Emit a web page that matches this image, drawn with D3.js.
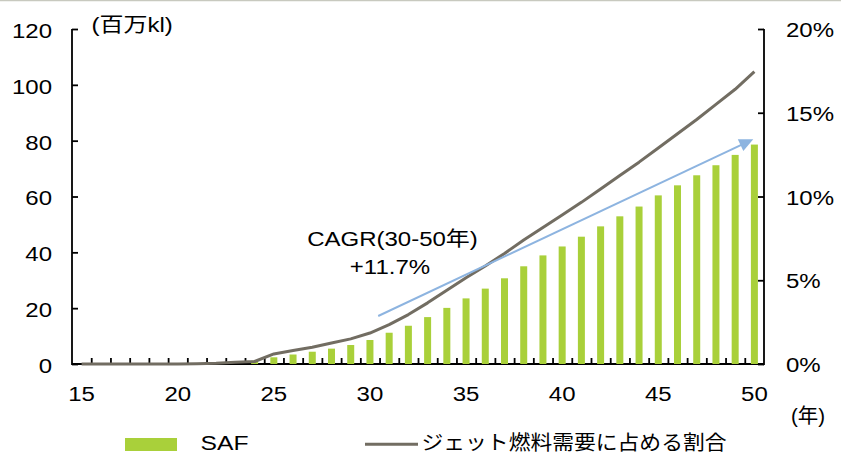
<!DOCTYPE html>
<html>
<head>
<meta charset="utf-8">
<script src="https://cdn.jsdelivr.net/npm/d3@7"></script>
<style>
  body { margin: 0; background: #fff; }
  svg { display: block; }
  text { font-family: "Liberation Sans", Arial, "Noto Sans CJK JP", sans-serif; font-size: 20px; fill: #000; }
</style>
</head>
<body>
<script>
// Fiscal years (20xx)
const years = [15, 16, 17, 18, 19, 20, 21, 22, 23, 24, 25, 26, 27, 28, 29, 30, 31, 32,
               33, 34, 35, 36, 37, 38, 39, 40, 41, 42, 43, 44, 45, 46, 47, 48, 49, 50];
// SAF volume, million kl (left axis)
const safVolume = [0, 0, 0, 0, 0, 0, 0, 0, 0, 1.2, 2.4, 3.4, 4.4, 5.5, 6.8, 8.6, 11.2, 13.7,
                   16.8, 20.1, 23.5, 27.0, 30.7, 35.0, 38.9, 42.1, 45.6, 49.3, 52.9, 56.4, 60.4, 64.0, 67.6, 71.2, 74.9, 78.6];
// SAF share of jet fuel demand, % (right axis)
const jetShare = [0, 0, 0, 0, 0, 0, 0.02, 0.04, 0.1, 0.15, 0.6, 0.8, 1.0, 1.25, 1.5, 1.85, 2.35, 2.95,
                  3.65, 4.4, 5.15, 5.85, 6.6, 7.4, 8.15, 8.9, 9.65, 10.45, 11.25, 12.05, 12.9, 13.75, 14.6, 15.5, 16.4, 17.45];
const xTickLabels = [15, 20, 25, 30, 35, 40, 45, 50];
const leftTicks = [0, 20, 40, 60, 80, 100, 120];
const rightTicks = [0, 5, 10, 15, 20];
// CAGR arrow endpoints: [year, million kl]
const cagrFrom = [30.43, 17.2];
const cagrTo = [49.94, 80.5];

const W = 841, H = 455;
const plot = { left: 72, right: 764, top: 29, bottom: 364 };
const BAR = "#a9d03a", LINE = "#726d62", ARROW = "#8db4e0";
const SX = 1.2; // horizontal text stretch

const svg = d3.select("body").append("svg").attr("width", W).attr("height", H);

function stretch(sel, k) {
  sel.each(function () {
    const n = this.getComputedTextLength();
    this.setAttribute("textLength", n * k);
    this.setAttribute("lengthAdjust", "spacingAndGlyphs");
  });
}

const x = d3.scaleBand().domain(years).range([plot.left, plot.right]);
const xLin = d3.scaleLinear()
  .domain([years[0] - 0.5, years[years.length - 1] + 0.5])
  .range([plot.left, plot.right]);
const yL = d3.scaleLinear().domain([0, 120]).range([plot.bottom, plot.top]);
const yR = d3.scaleLinear().domain([0, 20]).range([plot.bottom, plot.top]);

// thin rule along the top edge
svg.append("line").attr("x1", 0).attr("x2", W).attr("y1", 0.6).attr("y2", 0.6)
  .attr("stroke", "#c8c9bf").attr("stroke-width", 1.5);

// left axis
const gL = svg.append("g").attr("transform", `translate(${plot.left},0)`)
  .call(d3.axisLeft(yL).tickValues(leftTicks).tickSize(-6).tickPadding(20).tickSizeOuter(0));
gL.select(".domain").remove();
gL.selectAll(".tick line").attr("stroke", "#000").attr("stroke-width", 1.8);
gL.selectAll("text").attr("dy", "0.42em").style("font-size", "20px");
stretch(gL.selectAll("text"), SX);

// right axis
const gR = svg.append("g").attr("transform", `translate(${plot.right},0)`)
  .call(d3.axisRight(yR).tickValues(rightTicks).tickSize(-6).tickPadding(22)
    .tickFormat(d => d + "%").tickSizeOuter(0));
gR.select(".domain").remove();
gR.selectAll(".tick line").attr("stroke", "#000").attr("stroke-width", 1.8);
gR.selectAll("text").attr("dy", "0.38em").style("font-size", "20px");
stretch(gR.selectAll("text"), SX);

// bottom axis: tick marks on category boundaries, labels every 5 years
const gBt = svg.append("g").attr("transform", `translate(0,${plot.bottom})`)
  .call(d3.axisBottom(xLin).tickValues(years.slice(0, -1).map(d => d + 0.5))
    .tickSize(-6).tickFormat("").tickSizeOuter(0));
gBt.select(".domain").remove();
gBt.selectAll(".tick line").attr("stroke", "#000").attr("stroke-width", 1.8);

const gBl = svg.append("g").attr("transform", `translate(0,${plot.bottom})`)
  .call(d3.axisBottom(x).tickValues(xTickLabels).tickSize(0).tickPadding(22.5));
gBl.select(".domain").remove();
gBl.selectAll("text").style("font-size", "20px");
stretch(gBl.selectAll("text"), SX);

// axis lines
const axisPath = d3.path();
axisPath.moveTo(plot.left, plot.top); axisPath.lineTo(plot.left, plot.bottom);
axisPath.lineTo(plot.right, plot.bottom); axisPath.lineTo(plot.right, plot.top);
svg.append("path").attr("d", axisPath.toString()).attr("fill", "none")
  .attr("stroke", "#000").attr("stroke-width", 1.8);

// SAF bars
const bw = 7;
svg.append("g").selectAll("rect")
  .data(years.map((y, i) => ({ y, v: safVolume[i] })).filter(d => d.v > 0))
  .join("rect")
  .attr("x", d => x(d.y) + x.bandwidth() / 2 - bw / 2)
  .attr("width", bw)
  .attr("y", d => yL(d.v))
  .attr("height", d => yL(0) - yL(d.v))
  .attr("fill", BAR);

// share line
const line = d3.line()
  .x((d, i) => x(years[i]) + x.bandwidth() / 2)
  .y(d => yR(d));
svg.append("path").datum(jetShare).attr("d", line)
  .attr("fill", "none").attr("stroke", LINE).attr("stroke-width", 3)
  .attr("stroke-linejoin", "round");

// CAGR arrow
const ax0 = xLin(cagrFrom[0]), ay0 = yL(cagrFrom[1]);
const ax1 = xLin(cagrTo[0]), ay1 = yL(cagrTo[1]);
const len = Math.hypot(ax1 - ax0, ay1 - ay0);
const ux = (ax1 - ax0) / len, uy = (ay1 - ay0) / len;
const headL = 14, headW = 6.5;
const bx = ax1 - ux * headL, by = ay1 - uy * headL;
svg.append("line").attr("x1", ax0).attr("y1", ay0).attr("x2", bx + ux * 2).attr("y2", by + uy * 2)
  .attr("stroke", ARROW).attr("stroke-width", 2);
svg.append("path")
  .attr("d", `M${ax1},${ay1}L${bx - uy * headW},${by + ux * headW}L${bx + uy * headW},${by - ux * headW}Z`)
  .attr("fill", ARROW);

// CAGR annotation
const t1 = svg.append("text").attr("x", 392.5).attr("y", 246).attr("text-anchor", "middle")
  .text("CAGR(30-50年)");
const t2 = svg.append("text").attr("x", 390).attr("y", 274.3).attr("text-anchor", "middle")
  .text("+11.7%");
stretch(t1, SX); stretch(t2, SX);

// unit labels
const u1 = svg.append("text").attr("x", 91.5).attr("y", 31.5).text("(百万kl)");
stretch(u1, SX);
const u2 = svg.append("text").attr("x", 791).attr("y", 423).text("(年)");
u2.attr("textLength", 34).attr("lengthAdjust", "spacingAndGlyphs");

// legend
svg.append("rect").attr("x", 125).attr("y", 438).attr("width", 52).attr("height", 13).attr("fill", BAR);
svg.append("text").attr("x", 200.5).attr("y", 450).style("font-size", "20px").text("SAF")
  .attr("textLength", 48).attr("lengthAdjust", "spacingAndGlyphs");
svg.append("line").attr("x1", 365).attr("x2", 418).attr("y1", 444.3).attr("y2", 444.3)
  .attr("stroke", LINE).attr("stroke-width", 3);
svg.append("text").attr("x", 421.5).attr("y", 449.5).style("font-size", "20px")
  .text("ジェット燃料需要に占める割合")
  .attr("textLength", 305).attr("lengthAdjust", "spacingAndGlyphs");
</script>
</body>
</html>
